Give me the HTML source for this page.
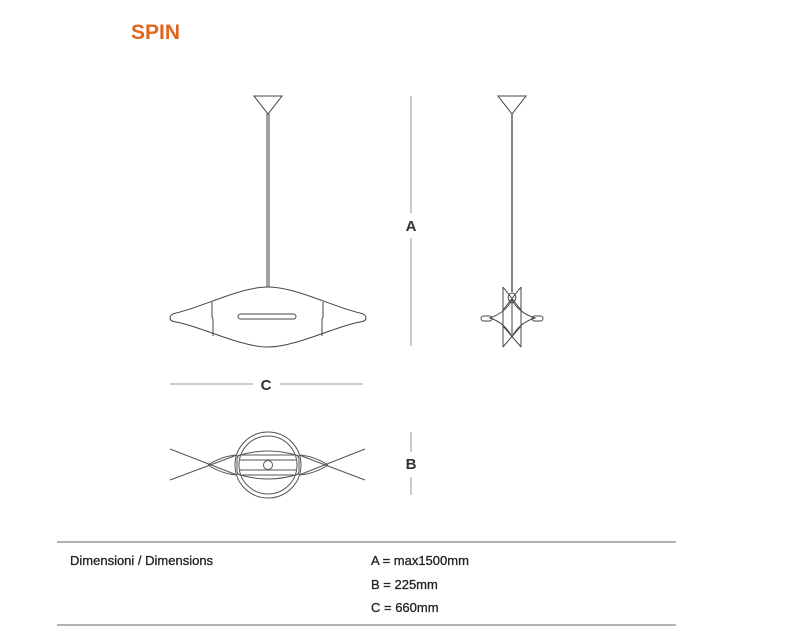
<!DOCTYPE html>
<html><head><meta charset="utf-8"><style>
body{margin:0;background:#fff;width:800px;height:640px;overflow:hidden;font-family:"Liberation Sans",sans-serif}
</style></head><body>
<svg width="800" height="640" xmlns="http://www.w3.org/2000/svg" style="position:absolute;left:0;top:0">
<text x="131" y="39" font-family="Liberation Sans" font-weight="bold" font-size="21" fill="#e0661f">SPIN</text>
<g fill="none" stroke="#444" stroke-width="1">
<polygon points="254,96 282,96 268,114"/>
<line x1="267" y1="114" x2="267" y2="287"/>
<line x1="269" y1="114" x2="269" y2="287"/>
<path d="M268,287 C240,287 200,308 176,313 C168,315 168,321 176,322 C200,326 240,347 268,347 C296,347 336,326 360,322 C368,321 368,315 360,313 C336,308 296,287 268,287 Z"/>
<path d="M212,302 L212,317 L213,319 L213,336"/>
<path d="M323,302 L323,317 L322,319 L322,336"/>
<rect x="238" y="314" width="58" height="5" rx="2.5"/>
<polygon points="498,96 526,96 512,114"/>
<line x1="512" y1="114" x2="512" y2="292" stroke-width="1.3"/>
<path d="M503,287 L503,347 M521,287 L521,347"/>
<path d="M503,287 L521,310 M521,287 L503,310 M503,347 L521,326 M521,347 L503,326"/>
<path d="M512,293 C508,293 506,300 512,303 C518,300 516,293 512,293"/>
<path d="M490,318 Q505,313 512,300 Q519,313 535,318 Q519,323 512,337 Q505,323 490,318 Z"/>
<line x1="512" y1="303" x2="512" y2="335"/>
<rect x="481" y="316" width="11" height="5" rx="2.5"/>
<rect x="532" y="316" width="11" height="5" rx="2.5"/>
</g>
<g stroke="#999" stroke-width="1">
<line x1="411" y1="96" x2="411" y2="213"/>
<line x1="411" y1="238" x2="411" y2="346"/>
<line x1="170" y1="384" x2="253" y2="384"/>
<line x1="280" y1="384" x2="363" y2="384"/>
<line x1="411" y1="432" x2="411" y2="452"/>
<line x1="411" y1="477" x2="411" y2="495"/>
</g>
<g font-family="Liberation Sans" font-weight="bold" font-size="15" fill="#333" text-anchor="middle">
<text x="411" y="231">A</text>
<text x="266" y="390">C</text>
<text x="411" y="469">B</text>
</g>
<g fill="none" stroke="#555" stroke-width="1">
<path d="M170,449 L237,475 M170,480 L237,455 M365,449 L299,475 M365,480 L299,455"/>
<path d="M208,465 Q222,456 237,455 M208,465 Q222,474 237,475 M328,465 Q314,456 299,455 M328,465 Q314,474 299,475"/>
<circle cx="268" cy="465" r="33" fill="#fff"/>
<circle cx="268" cy="465" r="29"/>
<path d="M237,456 Q268,446 299,456 M237,474 Q268,484 299,474"/>
<rect x="237" y="455" width="62" height="20" rx="4"/>
<line x1="240" y1="460" x2="296" y2="460"/>
<line x1="240" y1="470" x2="296" y2="470"/>
<circle cx="268" cy="465" r="4.5" fill="#fff"/>
</g>
<line x1="57" y1="542" x2="676" y2="542" stroke="#666"/>
<line x1="57" y1="625" x2="676" y2="625" stroke="#666"/>
<g font-family="Liberation Sans" font-size="13" fill="#222" stroke="#222" stroke-width="0.3">
<text x="70" y="565">Dimensioni / Dimensions</text>
<text x="371" y="565">A = max1500mm</text>
<text x="371" y="589">B = 225mm</text>
<text x="371" y="612">C = 660mm</text>
</g>
</svg>
</body></html>
